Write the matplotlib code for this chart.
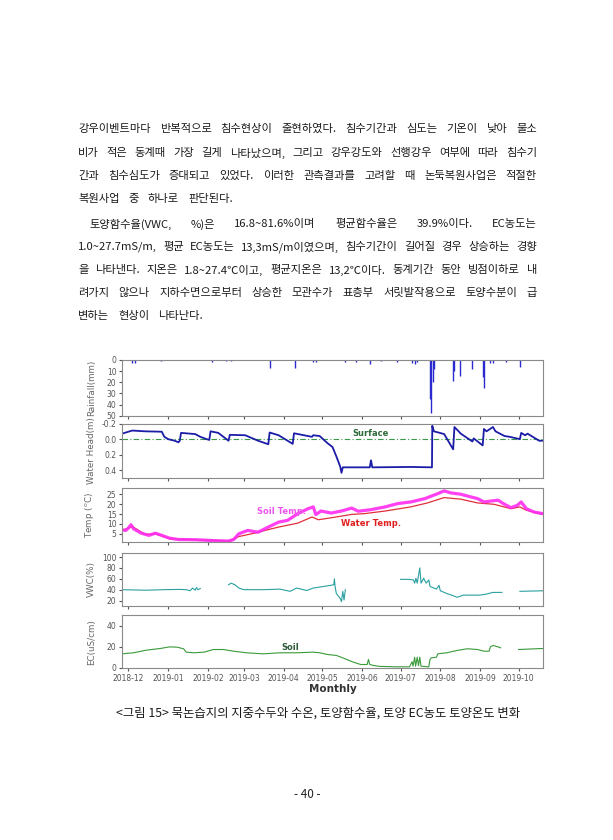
import pandas as pd
import numpy as np
import matplotlib
matplotlib.use('Agg')
import matplotlib.pyplot as plt
import matplotlib.dates as mdates

W, H = 613, 840
KR = ['Noto Sans CJK KR', 'DejaVu Sans']

# page text
body_lines = [
    '강우이벤트마다 반복적으로 침수현상이 출현하였다. 침수기간과 심도는 기온이 낮아 물소',
    '비가 적은 동계때 가장 길게 나타났으며, 그리고 강우강도와 선행강우 여부에 따라 침수기',
    '간과 침수심도가 증대되고 있었다. 이러한 관측결과를 고려할 때 논둑복원사업은 적절한',
    '복원사업 중 하나로 판단된다.',
    '토양함수율(VWC, %)은 16.8~81.6%이며 평균함수율은 39.9%이다. EC농도는',
    '1.0~27.7mS/m, 평균 EC농도는 13,3mS/m이였으며, 침수기간이 길어질 경우 상승하는 경향',
    '을 나타낸다. 지온은 1.8~27.4℃이고, 평균지온은 13,2℃이다. 동계기간 동안 빙점이하로 내',
    '려가지 않으나 지하수면으로부터 상승한 모관수가 표층부 서릿발작용으로 토양수분이 급',
    '변하는 현상이 나타난다.',
]
body_y = [129, 153, 176, 199, 224, 247, 270, 293, 316]
body_indent = [0, 0, 0, 0, 1, 0, 0, 0, 0]
body_justify = [1, 1, 1, 0, 1, 1, 1, 1, 0]
caption = '<그림 15> 묵논습지의 지중수두와 수온, 토양함수율, 토양 EC농도 토양온도 변화'
page_no = '- 40 -'

# rainfall (mm)
rain_dates = ['2018-12-04', '2018-12-06', '2018-12-26', '2019-02-04', '2019-02-15',
              '2019-02-19', '2019-03-21', '2019-04-10', '2019-04-24', '2019-04-26',
              '2019-05-19', '2019-05-27', '2019-06-07', '2019-06-16', '2019-06-28',
              '2019-07-10', '2019-07-12', '2019-07-14', '2019-07-24', '2019-07-25',
              '2019-07-26', '2019-07-27', '2019-08-11', '2019-08-12', '2019-08-16',
              '2019-08-26', '2019-09-03', '2019-09-04', '2019-09-09', '2019-09-11',
              '2019-09-21', '2019-10-02']
rain_mm = [2.5, 3, 0.5, 2, 1, 1, 7, 7, 2, 1.5, 1.5, 2, 4, 1, 2, 3, 4, 2,
           35, 48, 20, 8, 19, 10, 14, 8, 15, 25, 3, 3, 2, 6]

# water head (m)
wh_dates = ['2018-11-26', '2018-12-04', '2018-12-14', '2018-12-27', '2018-12-29',
            '2019-01-01', '2019-01-06', '2019-01-09', '2019-01-10', '2019-01-11',
            '2019-01-22', '2019-01-26', '2019-01-31', '2019-02-02', '2019-02-03',
            '2019-02-09', '2019-02-17', '2019-02-18', '2019-03-02', '2019-03-12',
            '2019-03-20', '2019-03-21', '2019-03-28', '2019-04-08', '2019-04-09',
            '2019-04-23', '2019-04-24', '2019-04-29', '2019-05-05', '2019-05-09',
            '2019-05-12', '2019-05-15', '2019-05-16', '2019-05-17', '2019-06-07',
            '2019-06-08', '2019-06-09', '2019-07-09', '2019-07-25 12:00',
            '2019-07-25 18:00', '2019-07-27', '2019-08-04', '2019-08-11',
            '2019-08-12', '2019-08-17', '2019-08-26', '2019-08-27', '2019-09-03',
            '2019-09-04', '2019-09-06', '2019-09-11', '2019-09-13', '2019-09-20',
            '2019-09-24', '2019-10-02', '2019-10-03', '2019-10-06', '2019-10-08',
            '2019-10-12', '2019-10-17', '2019-10-20']
wh_m = [-0.07, -0.11, -0.10, -0.095, -0.03, 0.0, 0.02, 0.04, 0.02, -0.08,
        -0.065, -0.03, 0.0, 0.01, -0.10, -0.08, 0.02, -0.055, -0.05, 0.02,
        0.065, -0.085, -0.05, 0.06, -0.075, -0.03, -0.05, -0.04, 0.05, 0.10,
        0.22, 0.35, 0.43, 0.36, 0.36, 0.27, 0.36, 0.355, 0.36, -0.17, -0.10,
        -0.065, 0.13, -0.155, -0.07, 0.03, -0.01, 0.08, -0.13, -0.10, -0.155,
        -0.10, -0.04, -0.03, 0.0, -0.08, -0.05, -0.07, -0.03, 0.02, 0.02]

# soil temperature (C)
soil_t_dates = ['2018-11-26', '2018-11-29', '2018-12-01', '2018-12-03', '2018-12-05',
                '2018-12-11', '2018-12-17', '2018-12-22', '2018-12-27', '2019-01-02',
                '2019-01-09', '2019-01-22', '2019-02-04', '2019-02-17', '2019-02-21',
                '2019-02-25', '2019-03-04', '2019-03-12', '2019-03-20', '2019-03-28',
                '2019-04-04', '2019-04-12', '2019-04-20', '2019-04-24', '2019-04-26',
                '2019-04-30', '2019-05-08', '2019-05-16', '2019-05-24', '2019-05-29',
                '2019-06-08', '2019-06-19', '2019-06-29', '2019-07-09', '2019-07-20',
                '2019-07-30', '2019-08-04', '2019-08-09', '2019-08-17', '2019-08-25',
                '2019-08-30', '2019-09-04', '2019-09-15', '2019-09-19', '2019-09-25',
                '2019-09-30', '2019-10-03', '2019-10-07', '2019-10-13', '2019-10-20']
soil_t = [7.0, 6.7, 7.9, 9.6, 7.5, 5.3, 4.2, 5.3, 4.2, 2.8, 2.1, 2.0, 1.6, 1.3,
          2.1, 5.0, 6.7, 5.8, 8.4, 10.9, 11.8, 15.2, 17.7, 18.6, 14.7, 16.5,
          15.5, 16.5, 18.0, 16.4, 17.2, 18.6, 20.3, 21.1, 22.8, 25.3, 26.7,
          25.7, 25.0, 23.6, 22.8, 21.1, 22.0, 20.3, 18.2, 19.4, 21.1, 17.7,
          16.0, 15.2]

# water temperature (C)
water_t_dates = ['2018-11-26', '2018-12-04', '2018-12-14', '2018-12-22', '2019-01-02',
                 '2019-01-22', '2019-02-17', '2019-02-25', '2019-03-07', '2019-03-28',
                 '2019-04-12', '2019-04-23', '2019-04-28', '2019-05-08', '2019-05-24',
                 '2019-06-03', '2019-06-19', '2019-07-09', '2019-07-22', '2019-08-04',
                 '2019-08-17', '2019-08-30', '2019-09-12', '2019-09-25', '2019-10-02',
                 '2019-10-07', '2019-10-20']
water_t = [6.7, 8.7, 4.7, 5.0, 2.5, 2.0, 1.3, 3.6, 5.0, 8.4, 10.4, 13.5, 12.1,
           13.1, 14.8, 15.2, 16.5, 18.6, 20.6, 23.3, 22.5, 20.6, 19.9, 17.7,
           18.6, 16.9, 14.8]

# soil water content (%), NaN = no record
vwc_dates = ['2018-11-26', '2018-12-15', '2018-12-28', '2019-01-10', '2019-01-15',
             '2019-01-18', '2019-01-20', '2019-01-22', '2019-01-23', '2019-01-24',
             '2019-01-26', '2019-02-05',
             '2019-02-17', '2019-02-19', '2019-02-22', '2019-02-25', '2019-03-01',
             '2019-03-16', '2019-03-29', '2019-04-06', '2019-04-11', '2019-04-19',
             '2019-04-24', '2019-05-05', '2019-05-10', '2019-05-10 12:00',
             '2019-05-11', '2019-05-12', '2019-05-15', '2019-05-16', '2019-05-17',
             '2019-05-18', '2019-05-19', '2019-06-10',
             '2019-07-01', '2019-07-08', '2019-07-11', '2019-07-12', '2019-07-13',
             '2019-07-14', '2019-07-16', '2019-07-17', '2019-07-19', '2019-07-21',
             '2019-07-23', '2019-07-24', '2019-07-27', '2019-07-29', '2019-07-31',
             '2019-08-01', '2019-08-06', '2019-08-11', '2019-08-14', '2019-08-19',
             '2019-09-01', '2019-09-06', '2019-09-11', '2019-09-18', '2019-09-25',
             '2019-10-02', '2019-10-20']
vwc = [40, 39, 40, 40.5, 40, 38, 43, 39, 44, 40, 42, np.nan,
       49, 52, 49, 43, 40, 40, 41, 37, 43, 38.5, 43, 47, 49, 60, 46, 33, 24,
       18, 37, 21, 40, np.nan,
       59, 59, 58, 52, 61, 52, 80, 52, 61, 52, 58, 46, 43, 41, 48, 38, 33,
       29, 26, 30, 30, 32, 35, 35, np.nan,
       37, 38]

# soil EC (uS/cm)
ec_dates = ['2018-11-26', '2018-12-05', '2018-12-15', '2018-12-26', '2019-01-02',
            '2019-01-08', '2019-01-13', '2019-01-15', '2019-01-21', '2019-01-29',
            '2019-02-05', '2019-02-13', '2019-02-21', '2019-03-03', '2019-03-16',
            '2019-03-29', '2019-04-11', '2019-04-24', '2019-04-29', '2019-05-05',
            '2019-05-12', '2019-05-17', '2019-05-20', '2019-05-25', '2019-05-31',
            '2019-06-05', '2019-06-06', '2019-06-07', '2019-06-10', '2019-06-15',
            '2019-06-28', '2019-07-08', '2019-07-10', '2019-07-10 18:00',
            '2019-07-12', '2019-07-12 18:00', '2019-07-14', '2019-07-15',
            '2019-07-16', '2019-07-17', '2019-07-23', '2019-07-24', '2019-07-25',
            '2019-07-29', '2019-07-30', '2019-08-06', '2019-08-14', '2019-08-22',
            '2019-08-30', '2019-09-04', '2019-09-08', '2019-09-09', '2019-09-11',
            '2019-09-15', '2019-09-17', '2019-09-24', '2019-10-01', '2019-10-20']
ec = [13.2, 14.2, 16.7, 18.3, 19.8, 19.5, 18, 14.8, 14.2, 14.8, 17.3, 17.3,
      15.7, 14.2, 13.2, 14.2, 14.2, 14.8, 14.2, 12.6, 11.7, 9.4, 7.9, 5.4,
      3.1, 3.1, 7.9, 3.1, 2.2, 1.3, 0.9, 0.9, 5.7, 1.6, 10, 1.5, 10, 2, 10,
      1.5, 0.9, 7.9, 9.4, 10, 13.2, 14.2, 16.4, 18, 17.3, 15.7, 15.7, 19.8,
      21.1, 19.8, 18.9, np.nan, 17.3, 18.3]


def dt(lst):
    return pd.to_datetime(lst, format='mixed')


# ---------------------------------------------------------------------------
fig = plt.figure(figsize=(W / 100, H / 100), dpi=100)
fig.patch.set_facecolor('white')
renderer = fig.canvas.get_renderer()


def fx(px):
    return px / W


def fy(py):
    return 1 - py / H


def word_widths(words, size):
    arts = [fig.text(0, 0, w, fontsize=size, family=KR) for w in words]
    ws = [a.get_window_extent(renderer).width for a in arts]
    for a in arts:
        a.remove()
    return ws


# pick the body size so that the first line has ~9 px word gaps, as on the page
line_l, line_r = 78, 537
probe = body_lines[0].split()
ws = word_widths(probe, 8.0)
body_size = 8.0 * ((line_r - line_l) - 9 * (len(probe) - 1)) / sum(ws)


def put_line(text, y, x0, x1, justify):
    kw = dict(fontsize=body_size, family=KR, color='#1a1a1a', va='center', ha='left')
    words = text.split()
    widths = word_widths(words, body_size)
    if justify:
        gap = ((x1 - x0) - sum(widths)) / (len(words) - 1)
    else:
        gap = 9
    x = x0
    for w, wd in zip(words, widths):
        fig.text(fx(x), fy(y), w, **kw)
        x += wd + gap


for line, y, ind, just in zip(body_lines, body_y, body_indent, body_justify):
    put_line(line, y, line_l + 11 * ind, line_r, just)

fig.text(fx(318), fy(713), caption, fontsize=8.9, family=KR, color='#1a1a1a',
         ha='center', va='center')
fig.text(fx(307), fy(795), page_no, fontsize=8.5, family=KR, color='#222222',
         ha='center', va='center')

# panels: (top px, bottom px)
left, right = 122, 543
boxes = [(360, 415.7), (423.5, 478.3), (488.3, 541.7), (552.7, 606), (615, 668.3)]
axes = []
for top, bot in boxes:
    ax = fig.add_axes([fx(left), fy(bot), (right - left) / W, (bot - top) / H])
    axes.append(ax)

x0 = pd.Timestamp('2018-11-26')
x1 = pd.Timestamp('2019-10-20')
frame = '#8a8a8a'
for ax in axes:
    ax.set_xlim(x0, x1)
    ax.xaxis.set_major_locator(mdates.MonthLocator())
    ax.xaxis.set_major_formatter(mdates.DateFormatter('%Y-%m'))
    ax.tick_params(direction='out', length=2.5, width=0.8, colors='#555555',
                   labelsize=5.5, pad=1.5)
    for s in ax.spines.values():
        s.set_color(frame)
        s.set_linewidth(0.8)
    ax.yaxis.set_label_coords(-0.062, 0.5)
for ax in axes[:-1]:
    ax.tick_params(labelbottom=False)

lab = dict(fontsize=6.3, color='#666666')

# rainfall
ax = axes[0]
ax.vlines(dt(rain_dates), 0, rain_mm, color='#2a2ad0', lw=1.0)
ax.set_ylim(50, 0)
ax.set_yticks([0, 10, 20, 30, 40, 50])
ax.set_ylabel('Rainfall(mm)', **lab)

# water head
ax = axes[1]
ax.axhline(0, color='#3a9a4a', lw=0.8, ls=(0, (5, 2, 1, 2)))
ax.plot(dt(wh_dates), wh_m, color='#1c1ca8', lw=1.3)
ax.set_ylim(0.5, -0.2)
ax.set_yticks([-0.2, 0.0, 0.2, 0.4])
ax.set_yticklabels(['-0.2', '0.0', '0.2', '0.4'])
ax.set_ylabel('Water Head(m)', **lab)
ax.text(pd.Timestamp('2019-06-08'), -0.075, 'Surface', color='#2d6a3a',
        fontsize=6, fontweight='bold', ha='center', va='center')

# temperatures
ax = axes[2]
ax.plot(dt(water_t_dates), water_t, color='#e0303c', lw=0.9)
ax.plot(dt(soil_t_dates), soil_t, color='#ff2cf0', lw=2.3, alpha=0.9)
ax.set_ylim(1, 28)
ax.set_yticks([5, 10, 15, 20, 25])
ax.set_ylabel('Temp ($^o$C)', **lab)
ax.text(pd.Timestamp('2019-03-30'), 16.4, 'Soil Temp.', color='#ee55ee',
        fontsize=6, fontweight='bold', ha='center', va='center')
ax.text(pd.Timestamp('2019-06-08'), 10.4, 'Water Temp.', color='#e02020',
        fontsize=6, fontweight='bold', ha='center', va='center')

# VWC
ax = axes[3]
ax.plot(dt(vwc_dates), vwc, color='#2aa0a0', lw=0.8)
ax.set_ylim(10, 108)
ax.set_yticks([20, 40, 60, 80, 100])
ax.set_ylabel('VWC(%)', **lab)

# EC
ax = axes[4]
ax.plot(dt(ec_dates), ec, color='#3a9a3a', lw=0.8)
ax.set_ylim(-0.5, 50)
ax.set_yticks([0, 20, 40])
ax.set_ylabel('EC(uS/cm)', **lab)
ax.text(pd.Timestamp('2019-04-06'), 19.5, 'Soil', color='#2d5a3a',
        fontsize=6, fontweight='bold', ha='center', va='center')
ax.set_xlabel('Monthly', fontsize=7.5, fontweight='bold', color='#333333',
              labelpad=1)

fig.savefig('out.png', dpi=100, facecolor='white')
